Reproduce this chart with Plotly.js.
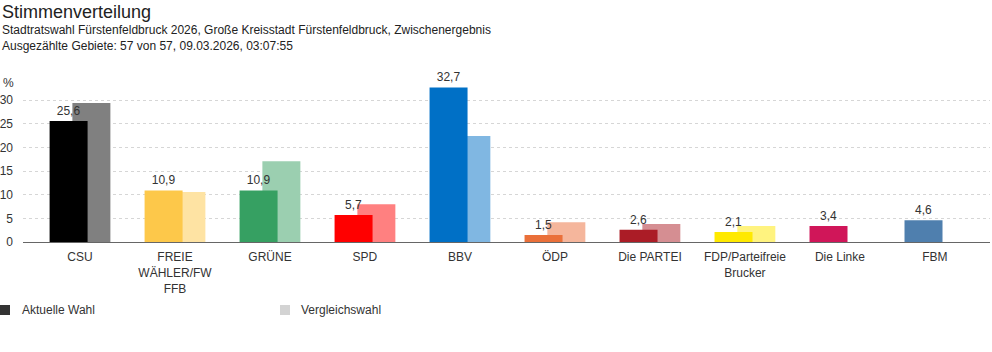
<!DOCTYPE html>
<html><head><meta charset="utf-8">
<script src="https://cdn.plot.ly/plotly-3.0.1.min.js"></script>
<style>html,body{margin:0;padding:0;background:#fff}#c{width:992px;height:352px}</style>
</head><body><div id="c"></div>
<script>
const categories = ["CSU","FREIE<br>WÄHLER/FW<br>FFB","GRÜNE","SPD","BBV","ÖDP","Die PARTEI","FDP/Parteifreie<br>Brucker","Die Linke","FBM"];
const currentVotes = [25.6,10.9,10.9,5.7,32.7,1.5,2.6,2.1,3.4,4.6];
const compareVotes = [29.4,10.6,17.1,8.0,22.4,4.2,3.8,3.4,null,null];
const currentColors = ["#000000","#fdc84a","#36a062","#ff0000","#0070c6","#ea703a","#ab1c26","#ffe900","#d01659","#4f7fae"];
const compareColors = ["#808080","#fee3a3","#9bcfb0","#ff8080","#80b7e2","#f5b69c","#d58e92","#fff37f","#e88aac","#a7bfd6"];
const tickVals = [0,5,10,15,20,25,30];
const legendLabels = ["Aktuelle Wahl","Vergleichswahl"];
const legendColors = ["#333333","#d3d3d3"];

const font = "Liberation Sans, Arial, Helvetica, sans-serif";
const data = [
  {type:"bar", x:categories, y:compareVotes, marker:{color:compareColors, line:{width:0}},
   offset:-0.08, width:0.40, hoverinfo:"y", showlegend:false},
  {type:"bar", x:categories, y:currentVotes, marker:{color:currentColors, line:{width:0}},
   offset:-0.32, width:0.40, texttemplate:"%{y:.1f}",
   textposition:"outside", textfont:{family:font,size:12,color:"#333"}, cliponaxis:false,
   hoverinfo:"y", showlegend:false}
];
const layout = {
  width:992, height:352, separators:",.",
  margin:{l:23,r:2,t:86,b:110}, paper_bgcolor:"#fff", plot_bgcolor:"#fff",
  barmode:"overlay", showlegend:false, font:{family:font,size:12,color:"#333"},
  xaxis:{type:"category", range:[-0.6,9.58], showgrid:false, showline:true, linecolor:"#666", linewidth:1,
    ticks:"", ticklabelstandoff:4, tickfont:{family:font,size:12,color:"#333"}, fixedrange:true, zeroline:false},
  yaxis:{range:[0,33], tickvals:tickVals, ticktext:tickVals.map(String), showgrid:true, gridcolor:"#d6d6d6",
    griddash:"dot", gridwidth:1, zeroline:false, ticks:"", ticklabelstandoff:9,
    tickfont:{family:font,size:12,color:"#333"}, fixedrange:true},
  annotations:[
    {text:"Stimmenverteilung", xref:"paper", yref:"paper", x:-23/967, y:1, yshift:86-12, xanchor:"left", yanchor:"middle",
     showarrow:false, font:{family:font,size:18,color:"#222"}},
    {text:"Stadtratswahl Fürstenfeldbruck 2026, Große Kreisstadt Fürstenfeldbruck, Zwischenergebnis", xref:"paper", yref:"paper",
     x:-23/967, y:1, yshift:86-30, xanchor:"left", yanchor:"middle", showarrow:false, font:{family:font,size:12,color:"#222"}},
    {text:"Ausgezählte Gebiete: 57 von 57, 09.03.2026, 03:07:55", xref:"paper", yref:"paper",
     x:-23/967, y:1, yshift:86-46, xanchor:"left", yanchor:"middle", showarrow:false, font:{family:font,size:12,color:"#222"}},
    {text:"%", xref:"paper", yref:"paper", x:-23/967, xshift:1, y:1, yshift:3, xanchor:"left", yanchor:"middle",
     showarrow:false, font:{family:font,size:12,color:"#333"}},
    {text:legendLabels[0], xref:"paper", yref:"paper", x:-3/967, y:0, yshift:-68, xanchor:"left", yanchor:"middle",
     showarrow:false, font:{family:font,size:12,color:"#333"}},
    {text:legendLabels[1], xref:"paper", yref:"paper", x:276/967, y:0, yshift:-68, xanchor:"left", yanchor:"middle",
     showarrow:false, font:{family:font,size:12,color:"#333"}}
  ],
  shapes:[
    {type:"rect", xref:"paper", yref:"paper", x0:-23/967, x1:-13/967, y0:-(305-242)/156, y1:-(315-242)/156,
     fillcolor:legendColors[0], line:{width:0}},
    {type:"rect", xref:"paper", yref:"paper", x0:257/967, x1:267/967, y0:-(305-242)/156, y1:-(315-242)/156,
     fillcolor:legendColors[1], line:{width:0}}
  ]
};
Plotly.newPlot("c", data, layout, {displayModeBar:false, staticPlot:true});
</script></body></html>
